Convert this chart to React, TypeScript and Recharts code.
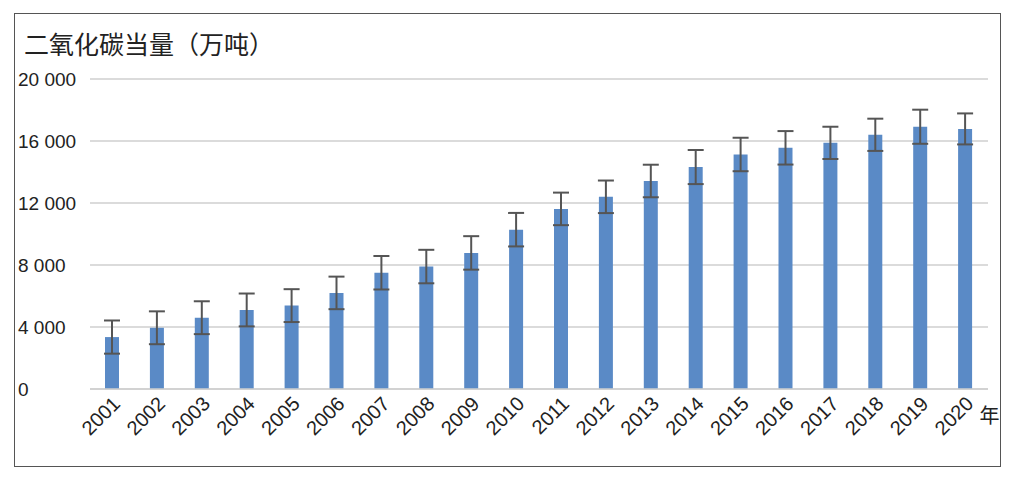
import React from "react";
import { BarChart, Bar, XAxis, YAxis, CartesianGrid, ErrorBar } from "recharts";

const years = [
  "2001", "2002", "2003", "2004", "2005", "2006", "2007", "2008", "2009", "2010",
  "2011", "2012", "2013", "2014", "2015", "2016", "2017", "2018", "2019", "2020",
];
const emissions = [
  3350, 3950, 4600, 5100, 5380, 6200, 7500, 7900, 8780, 10280,
  11620, 12400, 13420, 14320, 15130, 15560, 15880, 16400, 16920, 16780,
];
const errors = [
  1070, 1060, 1060, 1060, 1060, 1050, 1080, 1080, 1080, 1080,
  1050, 1050, 1050, 1100, 1080, 1080, 1040, 1040, 1100, 1000,
];
const yTicks = [0, 4000, 8000, 12000, 16000, 20000];

const data = years.map((year, i) => ({ year, value: emissions[i], err: errors[i] }));

const FONT = "'Liberation Sans', Arial, sans-serif";

const fmt = (v: number) => (v >= 1000 ? `${Math.floor(v / 1000)} ${String(v % 1000).padStart(3, "0")}` : String(v));

function YTick({ y, payload }: any) {
  return (
    <text x={18} y={y} dy={7} textAnchor="start" fontSize={19} fill="#222" fontFamily={FONT}>
      {fmt(payload.value)}
    </text>
  );
}

function XTick({ x, y, payload }: any) {
  return (
    <g>
      <text
        x={x + 9}
        y={y + 8}
        textAnchor="end"
        fontSize={20}
        fill="#222"
        fontFamily={FONT}
        transform={`rotate(-45 ${x + 9} ${y + 8})`}
      >
        {payload.value}
      </text>
      {payload.value === years[years.length - 1] && (
        <text x={x + 14} y={y + 26} fontSize={20} fill="#222" fontFamily="'Noto Sans CJK SC', sans-serif">
          年
        </text>
      )}
    </g>
  );
}

export default function App() {
  return (
    <div style={{ position: "absolute", left: 0, top: 0, width: 1015, height: 479, background: "#fff" }}>
      <div
        style={{
          position: "absolute",
          left: 14,
          top: 13,
          width: 985,
          height: 452,
          border: "1.5px solid #555",
        }}
      />
      <div
        style={{
          position: "absolute",
          left: 24,
          top: 26,
          fontSize: 25,
          color: "#222",
          fontFamily: "'Noto Sans CJK SC', sans-serif",
          lineHeight: "34px",
        }}
      >
        二氧化碳当量（万吨）
      </div>
      <BarChart
        width={1015}
        height={479}
        data={data}
        margin={{ top: 79, right: 27, bottom: 30, left: 18 }}
        style={{ position: "absolute", left: 0, top: 0 }}
      >
        <CartesianGrid vertical={false} stroke="#cfcfcf" strokeWidth={1.5} />
        <XAxis
          dataKey="year"
          tick={<XTick />}
          tickLine={false}
          axisLine={{ stroke: "#cfcfcf", strokeWidth: 1.5 }}
          interval={0}
          height={60}
        />
        <YAxis
          domain={[0, 20000]}
          ticks={yTicks}
          tick={<YTick />}
          tickLine={false}
          axisLine={false}
          width={72}
        />
        <Bar dataKey="value" fill="#5a8ac6" barSize={14} isAnimationActive={false}>
          <ErrorBar dataKey="err" width={8} strokeWidth={2} stroke="#555" direction="y" />
        </Bar>
      </BarChart>
    </div>
  );
}
